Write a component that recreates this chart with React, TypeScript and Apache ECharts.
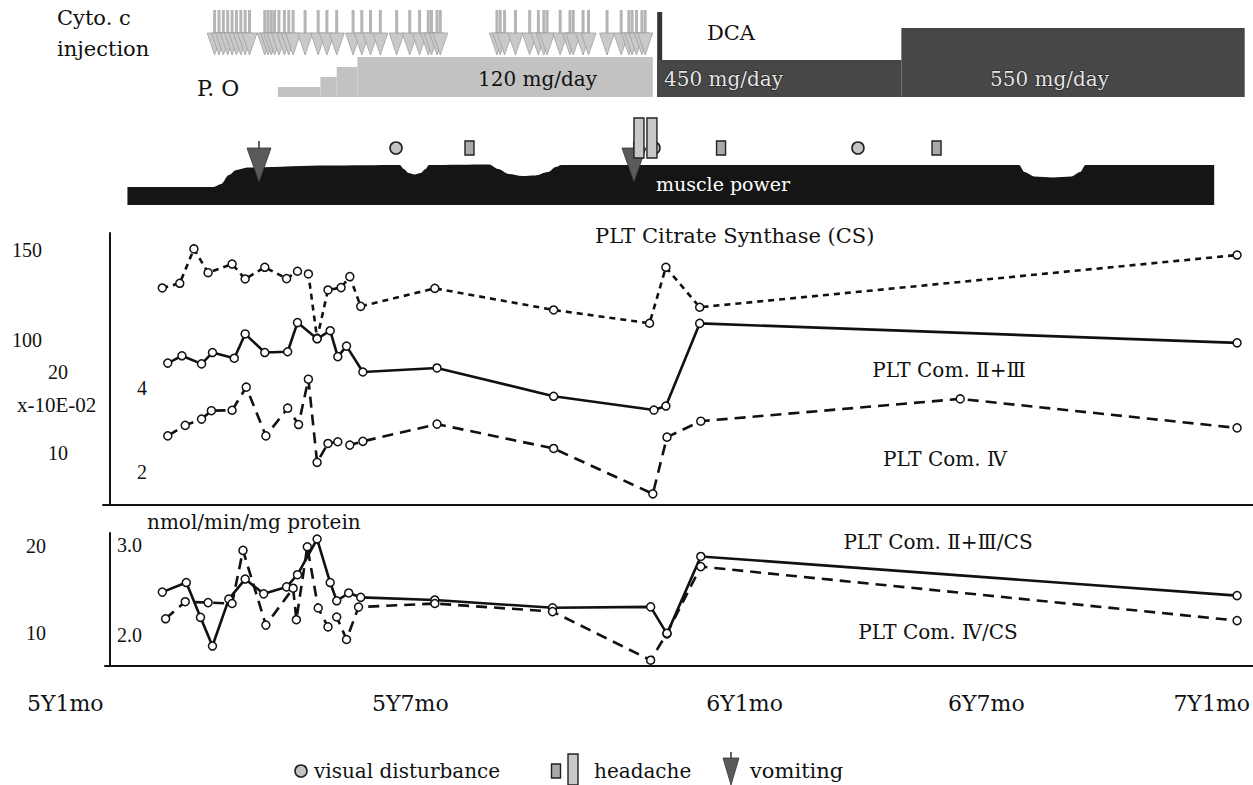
import React, { useEffect, useRef } from "react";
import * as echarts from "echarts";

// ---------------- data ----------------
// x values are timeline position units (the original time axis is not linear)
const xTickValues = [-4.1, 27.6, 58.3, 80.5, 101.2];
const xTickLabels = ["5Y1mo", "5Y7mo", "6Y1mo", "6Y7mo", "7Y1mo"];

const injectionTimes = [
  9.6, 10.0, 10.4, 10.8, 11.2, 11.6, 12.0, 12.4, 12.8, 14.2, 14.5, 14.8, 15.1, 15.5, 16.0, 16.4,
  16.8, 17.9, 19.1, 19.9, 20.8, 22.3, 23.1, 23.9, 24.8, 26.3, 27.5, 28.4, 29.2, 29.5, 30.0, 30.3,
  35.5, 35.8, 36.2, 37.2, 38.5, 39.3, 39.8, 40.1, 41.3, 42.2, 42.5, 43.4, 43.9, 45.6, 46.9, 47.6,
  47.9, 48.3, 48.8, 49.1,
];

const poStart = [15.4, 19.3, 20.8, 22.7];
const poEnd = [19.3, 20.8, 22.7, 49.8];
const poDose = [30, 60, 90, 120];

const dcaStart = [50.2, 72.6];
const dcaEnd = [72.6, 104.1];
const dcaDose = [450, 550];

const muscleTime = [1.6, 9.5, 10.2, 10.9, 11.6, 12.6, 20, 26.6, 26.95, 27.4, 27.94, 28.5, 28.95, 29.25, 34.8, 35.6, 36.6, 37.8, 39.0, 40.2, 40.9, 41.4, 83.4, 83.9, 84.8, 86.5, 88.2, 89.0, 89.5, 101.3];
const musclePower = [18, 18, 21, 30, 35, 37.5, 39.5, 40, 36, 32, 30.5, 32, 36, 40, 40.5, 36, 31, 29, 29.5, 33, 38, 40, 40, 33, 28.5, 27.5, 28.5, 33, 40, 40];

const visualDisturbance = [26.24, 49.91, 68.62];
const headacheShort = [32.98, 56.06, 75.83];
const headacheLong = [48.53, 49.72];
const vomiting = [13.67, 48.07];

const csData = [[4.8,128.9],[6.4,131.5],[7.7,150.6],[9.0,137.4],[11.2,142.2],[12.4,133.9],[14.2,140.4],[16.2,134.1],[17.2,138.2],[18.2,136.7],[19.0,100.9],[20.0,127.8],[21.2,129.1],[22.0,135.2],[23.0,118.7],[29.8,128.7],[40.7,116.7],[49.5,109.3],[51.0,140.4],[54.1,118.2],[103.4,147.2]];
const c23Data = [[5.3,21.1],[6.6,22.0],[8.4,21.0],[9.4,22.4],[11.4,21.7],[12.4,24.7],[14.2,22.4],[16.3,22.5],[17.2,26.1],[19.0,24.1],[20.2,25.1],[20.9,21.9],[21.7,23.2],[23.2,20.0],[30.0,20.5],[40.7,17.0],[49.9,15.3],[51.0,15.8],[54.1,26.0],[103.4,23.6]];
const c4Data = [[5.3,2.86],[6.9,3.11],[8.4,3.26],[9.3,3.46],[11.2,3.47],[12.5,4.02],[14.3,2.86],[16.3,3.52],[17.3,3.13],[18.2,4.21],[19.0,2.23],[20.0,2.68],[20.9,2.72],[22.0,2.64],[23.2,2.73],[30.0,3.14],[40.7,2.56],[49.8,1.48],[51.1,2.83],[54.2,3.21],[78.0,3.74],[103.4,3.05]];
const r23Data = [[4.8,14.7],[7.0,15.8],[8.3,11.8],[9.4,8.5],[10.9,13.9],[12.4,16.2],[14.1,14.5],[16.2,15.3],[17.2,16.7],[19.0,20.8],[20.2,15.8],[20.8,13.7],[21.9,14.6],[23.0,14.1],[29.8,13.8],[40.6,12.9],[49.6,13.0],[51.1,9.9],[54.2,18.8],[103.4,14.3]];
const r4Data = [[5.1,2.18],[6.9,2.37],[9.0,2.36],[11.2,2.35],[12.2,2.94],[14.3,2.11],[16.8,2.52],[17.1,2.17],[18.1,2.98],[19.1,2.30],[20.0,2.09],[20.8,2.20],[21.7,1.95],[22.8,2.31],[29.8,2.35],[40.6,2.26],[49.6,1.72],[51.1,2.02],[54.2,2.76],[103.4,2.16]];

const csTicks = [100, 150];
const c23Ticks = [10, 20];
const c4Ticks = [2, 4];
const r23Ticks = [10, 20];
const r4Ticks = [2, 3];

// ---------------- layout ----------------
const W = 1253;
const H = 785;
const PX0 = 110; // pixel of timeline 0
const PXU = 10.9; // pixels per timeline unit
const TICKFONT = '"Liberation Serif", "DejaVu Serif", serif';
const FONT = '"DejaVu Serif", "Liberation Serif", "Noto Sans CJK JP", serif';
const INK = "#111";

function xr(left: number, right: number) {
  return { min: (left - PX0) / PXU, max: (W - right - PX0) / PXU };
}

function App() {
  const ref = useRef<HTMLDivElement>(null);
  useEffect(() => {
    if (!ref.current) return;
    const chart = echarts.init(ref.current, null, { renderer: "svg" });

    const grids = [
      { left: 0, right: 0, top: 10, height: 45 }, // 0 injections
      { left: 0, right: 0, top: 7, height: 90 }, // 1 P.O
      { left: 0, right: 0, top: 12, height: 85 }, // 2 DCA
      { left: 0, right: 0, top: 155, height: 50 }, // 3 muscle
      { left: 0, right: 0, top: 118, height: 64 }, // 4 symptoms
      { left: 103, right: 0, top: 233, height: 272 }, // 5 main frame
      { left: 103, right: 0, top: 160, height: 360 }, // 6 CS
      { left: 103, right: 0, top: 291, height: 243 }, // 7 II+III
      { left: 103, right: 0, top: 304, height: 252 }, // 8 IV
      { left: 105, right: 0, top: 533, height: 133 }, // 9 lower frame
      { left: 105, right: 0, top: 459, height: 261 }, // 10 II+III/CS
      { left: 105, right: 0, top: 455, height: 270 }, // 11 IV/CS
      { left: 0, right: 0, top: 690, height: 1 }, // 12 x labels
    ];

    const xAxes = grids.map((g, i) => {
      const base: any = { type: "value", gridIndex: i, ...xr(g.left, g.right) };
      if (i === 5 || i === 9) {
        return { ...base, axisLine: { show: true, onZero: false, lineStyle: { color: INK, width: 2 } }, axisTick: { show: false }, axisLabel: { show: false }, splitLine: { show: false } };
      }
      if (i === 12) {
        return {
          ...base,
          axisLine: { show: false },
          axisTick: { show: false },
          splitLine: { show: false },
          axisLabel: {
            customValues: xTickValues,
            margin: 1,
            color: INK,
            fontFamily: FONT,
            fontSize: 22,
            formatter: (v: number) => {
              const k = xTickValues.findIndex((t) => Math.abs(t - v) < 0.01);
              return k >= 0 ? xTickLabels[k] : "";
            },
          },
        };
      }
      return { ...base, show: false };
    });

    const labelAxis = (gi: number, min: number, max: number, ticks: number[], margin: number, inside: boolean, fmt?: (v: number) => string) => ({
      type: "value",
      gridIndex: gi,
      min,
      max,
      axisLine: { show: false },
      axisTick: { show: false },
      splitLine: { show: false },
      axisLabel: {
        customValues: ticks,
        inside,
        margin,
        color: INK,
        fontFamily: TICKFONT,
        fontSize: 20,
        formatter: fmt || ((v: number) => String(v)),
      },
    });

    const yAxes: any[] = [
      { type: "value", gridIndex: 0, min: 0, max: 1, show: false },
      { type: "value", gridIndex: 1, min: 0, max: 270, show: false },
      { type: "value", gridIndex: 2, min: 334, max: 600, show: false },
      { type: "value", gridIndex: 3, min: 0, max: 50, show: false },
      { type: "value", gridIndex: 4, min: 0, max: 1, show: false },
      { type: "value", gridIndex: 5, min: 0, max: 1, axisLine: { show: true, lineStyle: { color: INK, width: 2 } }, axisTick: { show: false }, axisLabel: { show: false }, splitLine: { show: false } },
      labelAxis(6, 0, 200, csTicks, 61, false),
      labelAxis(7, 0, 30, c23Ticks, 35, false),
      labelAxis(8, 0, 6, c4Ticks, 34, true),
      { type: "value", gridIndex: 9, min: 0, max: 1, axisLine: { show: true, lineStyle: { color: INK, width: 2 } }, axisTick: { show: false }, axisLabel: { show: false }, splitLine: { show: false } },
      labelAxis(10, 0, 30, r23Ticks, 59, false),
      labelAxis(11, 1, 4, r4Ticks, 12, true, (v: number) => v.toFixed(1)),
      { type: "value", gridIndex: 12, min: 0, max: 1, show: false },
    ];

    const stepItem = (fill: string) => (params: any, api: any) => {
      const cs = params.coordSys;
      const bottom = cs.y + cs.height;
      const p0 = api.coord([api.value(0), api.value(2)]);
      const p1 = api.coord([api.value(1), api.value(2)]);
      return { type: "rect", shape: { x: p0[0], y: p0[1], width: p1[0] - p0[0], height: bottom - p0[1] }, style: { fill } };
    };

    const symbolShapes = (kind: string, x: number, top: number): any[] => {
      if (kind === "circle") {
        return [{ type: "circle", shape: { cx: x, cy: top + 30, r: 6 }, style: { fill: "#c4c4c4", stroke: "#222", lineWidth: 1.6 } }];
      }
      if (kind === "square") {
        return [{ type: "rect", shape: { x: x - 4.5, y: top + 23, width: 9, height: 14 }, style: { fill: "#a9a9a9", stroke: "#222", lineWidth: 1.4 } }];
      }
      if (kind === "bar") {
        return [{ type: "rect", shape: { x: x - 5, y: top, width: 10, height: 40 }, style: { fill: "#c8c8c8", stroke: "#222", lineWidth: 1.4 } }];
      }
      return [
        { type: "rect", shape: { x: x - 1, y: top + 23, width: 2, height: 8 }, style: { fill: "#666" } },
        { type: "polygon", shape: { points: [[x - 12, top + 30], [x + 12, top + 30], [x, top + 64]] }, style: { fill: "#5a5a5a", stroke: "#333", lineWidth: 0.8 } },
      ];
    };

    const symptomSeries = (name: string, kind: string, times: number[]) => ({
      type: "custom",
      name,
      xAxisIndex: 4,
      yAxisIndex: 4,
      z: kind === "vomit" ? 6 : 7,
      data: times.map((t) => [t, 0]),
      renderItem: (params: any, api: any) => {
        const p = api.coord([api.value(0), 0]);
        return { type: "group", children: symbolShapes(kind, p[0], params.coordSys.y) };
      },
    });

    const lineSeries = (name: string, gi: number, data: number[][], dash: any) => ({
      type: "line",
      name,
      xAxisIndex: gi,
      yAxisIndex: gi,
      data,
      symbol: "circle",
      symbolSize: 8,
      showSymbol: true,
      clip: false,
      z: 5,
      lineStyle: { color: INK, width: 2.6, type: dash },
      itemStyle: { color: "#fff", borderColor: INK, borderWidth: 1.5 },
    });

    const txt = (text: string, x: number, y: number, align = "left", size = 20, fill = INK, family = FONT, extra: any = {}) => ({
      type: "text",
      x,
      y,
      z: 20,
      style: { text, fontFamily: family, fontSize: size, fill, textAlign: align, textVerticalAlign: "middle", ...extra },
    });

    const legendIcons: any[] = [
      ...symbolShapes("circle", 301, 741),
      ...symbolShapes("square", 556, 741),
      { type: "rect", shape: { x: 568, y: 754, width: 10, height: 31 }, style: { fill: "#c8c8c8", stroke: "#222", lineWidth: 1.4 } },
      { type: "rect", shape: { x: 730, y: 752, width: 2, height: 8 }, style: { fill: "#666" } },
      { type: "polygon", shape: { points: [[723, 758], [739, 758], [731, 785]] }, style: { fill: "#5a5a5a", stroke: "#333", lineWidth: 0.8 } },
    ].map((e) => ({ ...e, z: 20 }));

    const doseText = { stroke: "#1a1a1a", lineWidth: 1.2 };

    const option: any = {
      animation: false,
      backgroundColor: "#fff",
      grid: grids.map((g) => ({ ...g, containLabel: false })),
      xAxis: xAxes,
      yAxis: yAxes,
      series: [
        {
          type: "custom",
          name: "Cyto. c injection",
          xAxisIndex: 0,
          yAxisIndex: 0,
          data: injectionTimes.map((t) => [t, 0]),
          renderItem: (params: any, api: any) => {
            const cs = params.coordSys;
            const x = api.coord([api.value(0), 0])[0];
            const top = cs.y;
            return {
              type: "group",
              children: [
                { type: "rect", shape: { x: x - 1.5, y: top, width: 3, height: 25 }, style: { fill: "#b5b5b5" } },
                { type: "polygon", shape: { points: [[x - 7.5, top + 23], [x + 7.5, top + 23], [x, top + 45]] }, style: { fill: "#c9c9c9", stroke: "#a0a0a0", lineWidth: 0.8 } },
              ],
            };
          },
        },
        {
          type: "custom",
          name: "P.O",
          xAxisIndex: 1,
          yAxisIndex: 1,
          data: poStart.map((s, i) => [s, poEnd[i], poDose[i]]),
          encode: { x: [0, 1], y: 2 },
          renderItem: stepItem("#c2c2c2"),
        },
        {
          type: "custom",
          name: "DCA",
          xAxisIndex: 2,
          yAxisIndex: 2,
          data: dcaStart.map((s, i) => [s, dcaEnd[i], dcaDose[i]]),
          encode: { x: [0, 1], y: 2 },
          renderItem: (params: any, api: any) => {
            const rect = stepItem("#474747")(params, api);
            const children: any[] = [rect];
            if (params.dataIndex === 0) {
              const cs = params.coordSys;
              const x = api.coord([api.value(0), 0])[0];
              children.unshift({ type: "rect", shape: { x, y: cs.y, width: 5, height: cs.height }, style: { fill: "#333" } });
            }
            return { type: "group", children };
          },
        },
        {
          type: "line",
          name: "muscle power",
          xAxisIndex: 3,
          yAxisIndex: 3,
          data: muscleTime.map((t, i) => [t, musclePower[i]]),
          smooth: 0.3,
          smoothMonotone: "x",
          symbol: "none",
          lineStyle: { width: 0 },
          areaStyle: { color: "#151515", opacity: 1 },
          z: 3,
        },
        symptomSeries("visual disturbance", "circle", visualDisturbance),
        symptomSeries("headache", "square", headacheShort),
        symptomSeries("headache (long)", "bar", headacheLong),
        symptomSeries("vomiting", "vomit", vomiting),
        lineSeries("PLT Citrate Synthase (CS)", 6, csData, [6, 5]),
        lineSeries("PLT Com. II+III", 7, c23Data, "solid"),
        lineSeries("PLT Com. IV", 8, c4Data, [11, 7]),
        lineSeries("PLT Com. II+III/CS", 10, r23Data, "solid"),
        lineSeries("PLT Com. IV/CS", 11, r4Data, [11, 7]),
      ],
      graphic: [
        txt("Cyto. c", 57, 18, "left", 21),
        txt("injection", 57, 49, "left", 21),
        txt("P. O", 197, 88, "left", 22),
        txt("120 mg/day", 478, 79, "left", 20),
        txt("DCA", 731, 33, "center", 21),
        txt("450 mg/day", 664, 79, "left", 20, "#e6e6e6", FONT, doseText),
        txt("550 mg/day", 990, 79, "left", 20, "#e6e6e6", FONT, doseText),
        txt("muscle power", 723, 184, "center", 19, "#fff"),
        txt("x-10E-02", 17, 405, "left", 21, INK, TICKFONT),
        txt("PLT Citrate Synthase (CS)", 595, 236, "left", 21),
        txt("PLT Com. Ⅱ+Ⅲ", 949, 370, "center", 20),
        txt("PLT Com. Ⅳ", 945, 459, "center", 20),
        txt("nmol/min/mg protein", 147, 522, "left", 20),
        txt("PLT Com. Ⅱ+Ⅲ/CS", 938, 542, "center", 20),
        txt("PLT Com. Ⅳ/CS", 938, 632, "center", 20),
        txt("visual disturbance", 314, 771, "left", 20),
        txt("headache", 594, 771, "left", 20),
        txt("vomiting", 750, 771, "left", 21),
        ...legendIcons,
      ],
    };

    chart.setOption(option);
    return () => chart.dispose();
  }, []);

  return <div ref={ref} style={{ position: "absolute", left: 0, top: 0, width: W, height: H, background: "#fff" }} />;
}

export default App;
